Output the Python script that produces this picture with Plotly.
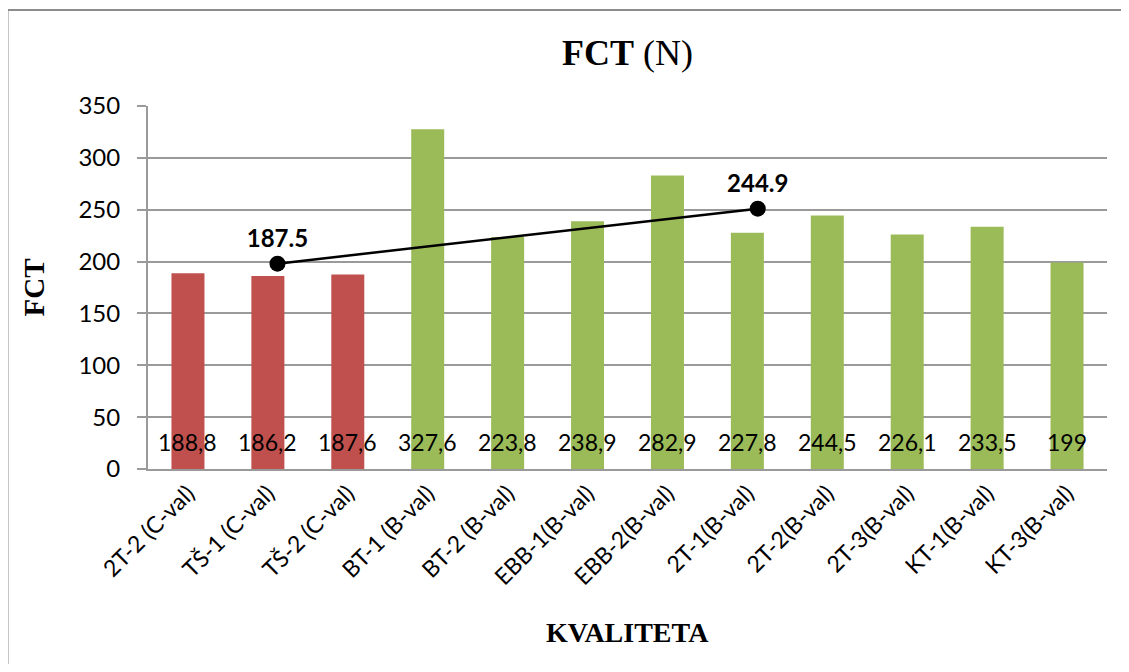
import plotly.graph_objects as go

categories = ["2T-2 (C-val)", "TŠ-1 (C-val)", "TŠ-2 (C-val)", "BT-1 (B-val)", "BT-2 (B-val)",
              "EBB-1(B-val)", "EBB-2(B-val)", "2T-1(B-val)", "2T-2(B-val)", "2T-3(B-val)",
              "KT-1(B-val)", "KT-3(B-val)"]
values = [188.8, 186.2, 187.6, 327.6, 223.8, 238.9, 282.9, 227.8, 244.5, 226.1, 233.5, 199]
value_labels = ["188,8", "186,2", "187,6", "327,6", "223,8", "238,9", "282,9", "227,8",
                "244,5", "226,1", "233,5", "199"]
groups = ["C", "C", "C", "B", "B", "B", "B", "B", "B", "B", "B", "B"]
group_colors = {"C": "#C0504D", "B": "#9BBB59"}

# overlay line (positions, on a linear copy of the category axis)
line_x = [1.12, 7.13]
line_y = [198, 251]
line_labels = ["187.5", "244.9"]

y_ticks = [0, 50, 100, 150, 200, 250, 300, 350]

SANS = "Lato"
SERIF = "Liberation Serif"
GRID = "#9a9a9a"

OFF = 8  # page body margin (each side)
W, H = 1129 - 2 * OFF, 672 - 2 * OFF
L, T = 148 - OFF, 106 - OFF
R, B = W - (1107 - OFF), H - (469 - OFF)
PW, PH = W - L - R, H - T - B

fig = go.Figure()
fig.add_trace(go.Bar(
    x=categories, y=values,
    marker=dict(color=[group_colors[g] for g in groups], line=dict(width=0)),
    hoverinfo="x+y", showlegend=False,
))
fig.add_trace(go.Scatter(
    x=line_x, y=line_y, xaxis="x2", yaxis="y",
    mode="lines+markers+text",
    line=dict(color="black", width=2.5),
    marker=dict(color="black", size=16),
    text=[f"<b>{t}</b>" for t in line_labels],
    textposition="top center",
    textfont=dict(family=SANS, size=24, color="black"),
    showlegend=False,
))

for c, lab in zip(categories, value_labels):
    fig.add_annotation(x=c, y=0, xref="x", yref="y", text=lab, showarrow=False,
                       yanchor="middle", yshift=27,
                       font=dict(family=SANS, size=23, color="black"))

fig.add_annotation(text="<b>KVALITETA</b>", xref="paper", yref="paper", x=0.5, y=0,
                   yshift=-163, showarrow=False, yanchor="middle",
                   font=dict(family=SERIF, size=28, color="black"))
fig.add_annotation(text="<b>FCT</b>", xref="paper", yref="paper", x=0, xshift=-115,
                   y=0.5, showarrow=False, textangle=-90, xanchor="center",
                   font=dict(family=SERIF, size=29, color="black"))

# outer chart border (only top and left edges are inside the picture)
bx0 = -(148 - 7.5) / PW
bx1 = 1 + R / PW
by0 = -B / PH
by1 = 1 + (106 - 10) / PH
fig.add_shape(type="line", xref="paper", yref="paper", x0=bx0, x1=bx1, y0=by1, y1=by1,
              line=dict(color="#8c8c8c", width=2), layer="below")
fig.add_shape(type="line", xref="paper", yref="paper", x0=bx0, x1=bx0, y0=by0, y1=by1,
              line=dict(color="#8c8c8c", width=2), layer="below")

fig.update_layout(
    width=W, height=H,
    margin=dict(l=L, r=R, t=T, b=B),
    paper_bgcolor="white", plot_bgcolor="white",
    title=dict(text="<b>FCT</b> (N)", x=0.5, xanchor="center", xref="paper",
               y=1 - (52 - OFF) / H, yref="container", yanchor="middle",
               font=dict(family=SERIF, size=36, color="black")),
    bargap=0.587,
    xaxis=dict(type="category", tickangle=-45, showgrid=False,
               showline=True, linecolor=GRID, linewidth=2,
               ticks="", tickfont=dict(family=SANS, size=23, color="black"),
               range=[-0.5, 11.5]),
    xaxis2=dict(overlaying="x", range=[-0.5, 11.5], visible=False, showgrid=False),
    yaxis=dict(range=[0, 350], tickvals=y_ticks, showgrid=True, gridcolor=GRID, gridwidth=2,
               showline=True, linecolor=GRID, linewidth=2, ticks="outside", ticklen=9,
               tickcolor=GRID, tickwidth=2, ticklabelstandoff=12,
               tickfont=dict(family=SANS, size=24, color="black"), zeroline=False),
)

fig.write_html("out.html")
